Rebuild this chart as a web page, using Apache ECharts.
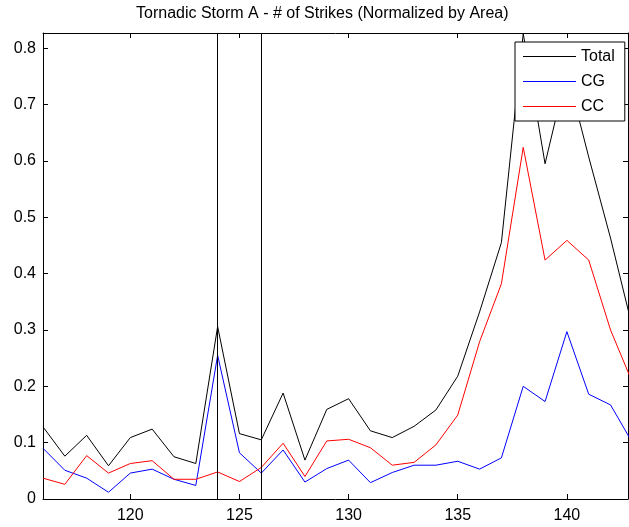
<!DOCTYPE html>
<html>
<head>
<meta charset="utf-8">
<script src="https://cdn.jsdelivr.net/npm/echarts@6/dist/echarts.min.js"></script>
<style>
html,body{margin:0;padding:0;background:#fff;}
#chart{width:629px;height:527px;}
</style>
</head>
<body>
<div id="chart"></div>
<script>
const xValues = [116,117,118,119,120,121,122,123,124,125,126,127,128,129,130,131,132,133,134,135,136,137,138,139,140,141,142,143];
const totalValues = [0.128,0.076,0.113,0.059,0.109,0.124,0.075,0.063,0.306,0.116,0.105,0.188,0.069,0.159,0.178,0.121,0.109,0.129,0.158,0.218,0.332,0.455,0.826,0.595,0.758,0.607,0.463,0.305];
const cgValues = [0.090,0.051,0.037,0.012,0.046,0.053,0.035,0.024,0.255,0.082,0.046,0.087,0.030,0.054,0.069,0.029,0.047,0.060,0.060,0.067,0.053,0.073,0.200,0.173,0.297,0.186,0.167,0.100];
const ccValues = [0.037,0.026,0.077,0.046,0.063,0.068,0.035,0.035,0.048,0.031,0.056,0.099,0.040,0.103,0.106,0.091,0.060,0.065,0.096,0.149,0.279,0.382,0.624,0.424,0.459,0.424,0.300,0.207];
const markerXs = [124,126];
const seriesNames = ['Total','CG','CC'];
const seriesColors = ['#000000','#0000ff','#ff0000'];
const titleText = 'Tornadic Storm A - # of Strikes (Normalized by Area)';

const FONT = "'Liberation Sans', Arial, Helvetica, sans-serif";
const FS = 16;
const pair = (vals) => xValues.map((x, i) => [x, vals[i]]);

const chart = echarts.init(document.getElementById('chart'), null, {renderer: 'canvas'});

const xBase = {
  type: 'value', min: 116, max: 142.8, minInterval: 5, maxInterval: 5,
  axisLine: {show: true, onZero: false, lineStyle: {color: '#000', width: 1}},
  axisTick: {show: true, inside: true, length: 5, lineStyle: {color: '#000'}},
  splitLine: {show: false}
};
const yBase = {
  type: 'value', min: 0, max: 0.827, interval: 0.1,
  axisLine: {show: true, onZero: false, lineStyle: {color: '#000', width: 1}},
  axisTick: {show: true, inside: true, length: 5, lineStyle: {color: '#000'}},
  splitLine: {show: false}
};

const vals = [totalValues, cgValues, ccValues];
const series = seriesNames.map((name, i) => {
  const s = {
    name: name, type: 'line', data: pair(vals[i]), symbol: 'none',
    xAxisIndex: 0, yAxisIndex: 0,
    itemStyle: {color: seriesColors[i]},
    lineStyle: {color: seriesColors[i], width: 1}
  };
  if (i === 0) {
    s.markLine = {
      silent: true, symbol: ['none', 'none'], label: {show: false},
      lineStyle: {color: '#000', width: 1, type: 'solid'},
      data: markerXs.map(v => ({xAxis: v}))
    };
  }
  return s;
});

chart.setOption({
  animation: false,
  backgroundColor: '#fff',
  title: {
    text: titleText, left: 136, top: 6, padding: 0,
    textStyle: {fontFamily: FONT, fontSize: FS, fontWeight: 'normal', color: '#000'}
  },
  grid: {left: 43, right: 1, top: 33, bottom: 28, containLabel: false},
  legend: {
    data: seriesNames,
    orient: 'vertical', left: 515, top: 42,
    icon: 'path://M0,0 L53,0 L53,1 L0,1 Z', itemWidth: 53, itemHeight: 1, itemGap: 0,
    padding: [2, 10, 2, 8], borderColor: '#000', borderWidth: 1, borderRadius: 0,
    backgroundColor: '#fff', z: 10,
    itemStyle: {borderWidth: 0},
    lineStyle: {width: 0},
    textStyle: {fontFamily: FONT, fontSize: FS, color: '#000', lineHeight: 25}
  },
  xAxis: [
    Object.assign({}, xBase, {position: 'bottom',
      axisLabel: {show: true, margin: 9, showMinLabel: false, showMaxLabel: false, fontFamily: FONT, fontSize: FS, color: '#000'}}),
    Object.assign({}, xBase, {position: 'top', axisLabel: {show: false}})
  ],
  yAxis: [
    Object.assign({}, yBase, {position: 'left',
      axisLabel: {show: true, margin: 7, showMaxLabel: false, fontFamily: FONT, fontSize: FS, color: '#000'}}),
    Object.assign({}, yBase, {position: 'right', axisLabel: {show: false}})
  ],
  series: series
});
</script>
</body>
</html>
